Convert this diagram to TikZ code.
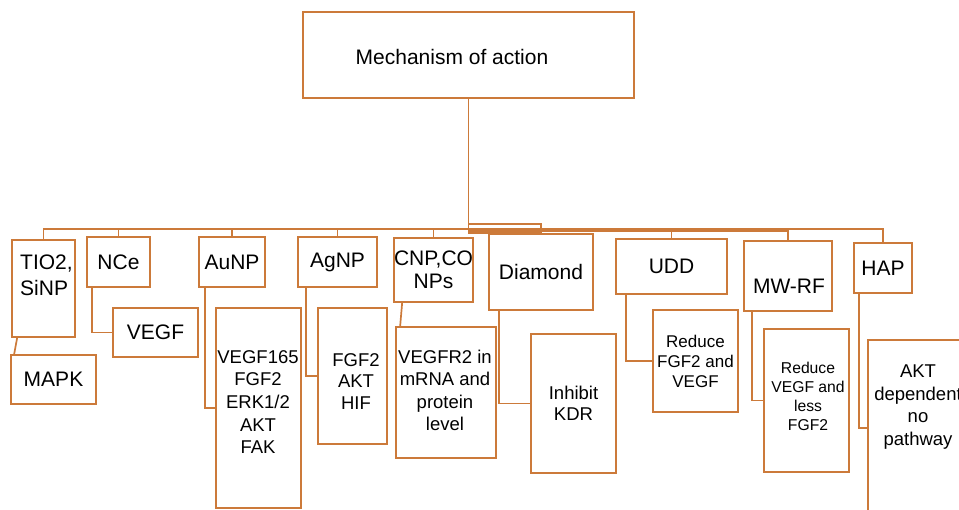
\documentclass[tikz,border=0pt]{standalone}
\usepackage{fontspec}
\setmainfont{Liberation Sans}
\definecolor{oc}{RGB}{204,122,58}
\begin{document}
\begin{tikzpicture}[x=1pt,y=-1pt,
  box/.style={draw=oc, line width=1.7pt, inner sep=0pt, align=center, font=\fontsize{21}{25}\selectfont},
  sub/.style={box, font=\fontsize{18.5}{22.6}\selectfont},
  txt/.style={inner sep=0pt, align=center, font=\fontsize{21}{25}\selectfont},
  wire/.style={draw=oc, line width=1.7pt}]
\useasboundingbox (0,0) rectangle (959,510);
% top
\node[box, minimum width=331pt, minimum height=86pt] (title) at (468.5,55) {};
\node[txt] (titlet) at (452,57) {Mechanism of action};
% first level
\node[box, minimum width=63pt, minimum height=97pt] (tio) at (43.5,288.5) {};
\node[txt, align=left, anchor=west, font=\fontsize{21}{26}\selectfont] (tiot) at (20,275) {TIO2,\\SiNP};
\node[box, minimum width=63pt, minimum height=50pt] (nce) at (118.5,262) {NCe};
\node[box, minimum width=66pt, minimum height=50pt] (au) at (232,262) {AuNP};
\node[box, minimum width=79pt, minimum height=50pt] (ag) at (337.5,262) {AgNP};
\node[box, minimum width=79pt, minimum height=64pt, font=\fontsize{21}{23}\selectfont] (cnp) at (433.5,270) {CNP,CO\\NPs};
\node[box, minimum width=104pt, minimum height=76pt] (dia) at (541,272) {Diamond};
\node[box, minimum width=111pt, minimum height=55pt] (udd) at (671.5,266.5) {UDD};
\node[box, minimum width=88pt, minimum height=70pt] (mw) at (788,276) {};
\node[txt] (mwt) at (789,286) {MW-RF};
\node[box, minimum width=58pt, minimum height=50pt] (hap) at (883,268) {HAP};
% second level
\node[box, minimum width=85pt, minimum height=49pt] (mapk) at (53.5,379.5) {MAPK};
\node[box, minimum width=85pt, minimum height=49pt] (vegf) at (155.5,332.5) {VEGF};
\node[sub, minimum width=85pt, minimum height=200pt] (auc) at (258.5,408) {};
\node[txt, font=\fontsize{18.5}{22.6}\selectfont] (auct) at (258,402) {VEGF165\\FGF2\\ERK1/2\\AKT\\FAK};
\node[sub, minimum width=69pt, minimum height=136pt] (agc) at (352.5,376) {};
\node[txt, font=\fontsize{18.5}{21.5}\selectfont] (agct) at (356,381.5) {FGF2\\AKT\\HIF};
\node[sub, minimum width=100pt, minimum height=131pt] (cnpc) at (446,392.5) {};
\node[txt, font=\fontsize{18.5}{22.3}\selectfont] (cnpct) at (445,390.5) {VEGFR2 in\\mRNA and\\protein\\level};
\node[sub, minimum width=85pt, minimum height=139pt, font=\fontsize{18.5}{21}\selectfont] (kdr) at (573.5,403.5) {Inhibit\\KDR};
\node[sub, minimum width=85pt, minimum height=102pt, font=\fontsize{17}{20}\selectfont] (uddc) at (695.5,361) {Reduce\\FGF2 and\\VEGF};
\node[sub, minimum width=85pt, minimum height=143pt] (mwc) at (806.5,400.5) {};
\node[txt, font=\fontsize{15.7}{19}\selectfont] (mwct) at (808,396.5) {Reduce\\VEGF and\\less\\FGF2};
\node[sub, minimum width=100pt, minimum height=176pt] (hapc) at (918,428) {};
\node[txt, font=\fontsize{18.5}{22.6}\selectfont] (hapct) at (918,407) {AKT\\dependent\\no\\pathway};
% bus
\coordinate (busL) at (43,229);
\draw[wire] (title.south) -- (title.south |- busL);
\draw[wire] (tio.north) -- (tio.north |- busL) -- (hap.north |- busL) -- (hap.north);
\draw[wire] (title.south |- 0,224) rectangle (dia.north);
\draw[wire] (title.south |- 0,231) -- (mw.north |- 0,231);
\foreach \n in {nce,au,ag,cnp,udd,mw}{
  \draw[wire] (\n.north) -- (\n.north |- busL);
}
% child connectors
\draw[wire] ([xshift=6pt]tio.south west) -- ([xshift=4pt]mapk.north west);
\draw[wire] ([xshift=6pt]nce.south west) |- (vegf.west);
\draw[wire] ([xshift=7pt]au.south west) |- (auc.west);
\draw[wire] ([xshift=9pt]ag.south west) |- (agc.west);
\draw[wire] ([xshift=9pt]cnp.south west) -- ([xshift=5pt]cnpc.north west);
\draw[wire] ([xshift=11pt]dia.south west) |- (kdr.west);
\draw[wire] ([xshift=11pt]udd.south west) |- (uddc.west);
\draw[wire] ([xshift=9pt]mw.south west) |- (mwc.west);
\draw[wire] ([xshift=6pt]hap.south west) |- (hapc.west);
\end{tikzpicture}
\end{document}
